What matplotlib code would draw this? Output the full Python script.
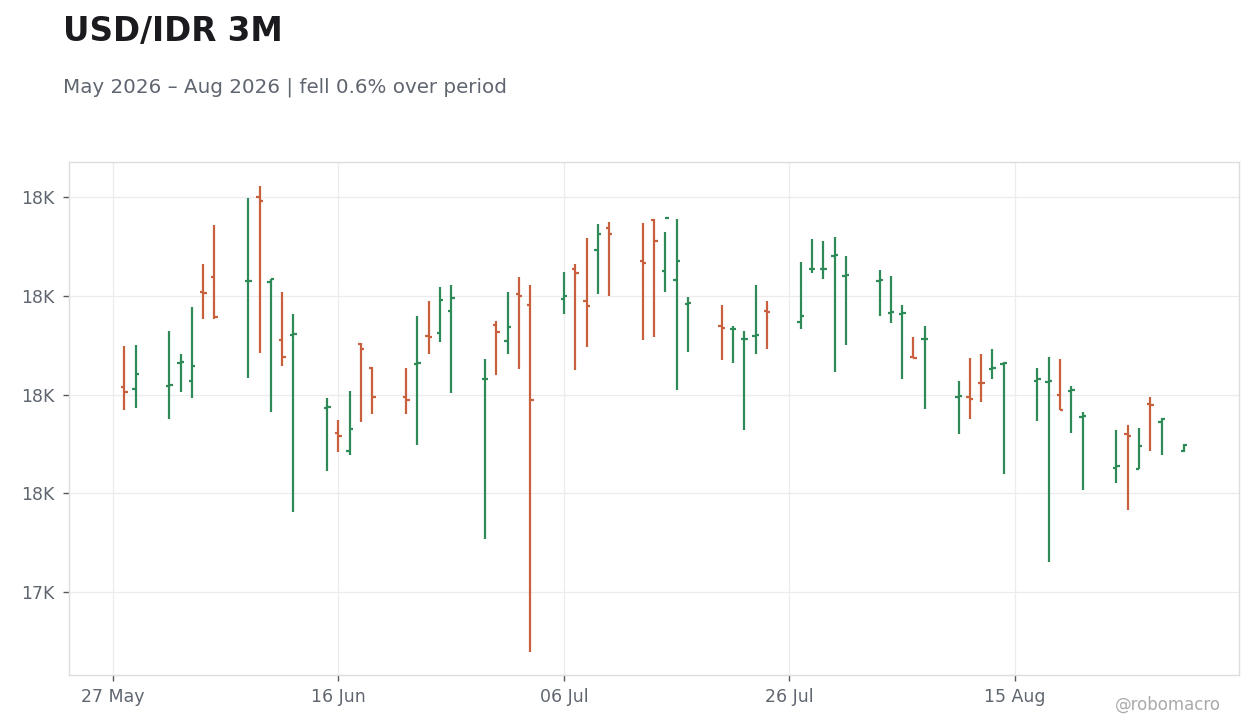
import pandas as pd
import matplotlib
matplotlib.use("Agg")
import matplotlib.pyplot as plt
import matplotlib.dates as mdates
from matplotlib.ticker import FuncFormatter, MultipleLocator

# daily OHLC, USD/IDR 3M
dates = [
    "2026-05-28", "2026-05-29",
    "2026-06-01", "2026-06-02", "2026-06-03", "2026-06-04", "2026-06-05",
    "2026-06-08", "2026-06-09", "2026-06-10", "2026-06-11", "2026-06-12",
    "2026-06-15", "2026-06-16", "2026-06-17", "2026-06-18", "2026-06-19",
    "2026-06-22", "2026-06-23", "2026-06-24", "2026-06-25", "2026-06-26",
    "2026-06-29", "2026-06-30", "2026-07-01", "2026-07-02", "2026-07-03",
    "2026-07-06", "2026-07-07", "2026-07-08", "2026-07-09", "2026-07-10",
    "2026-07-13", "2026-07-14", "2026-07-15", "2026-07-16", "2026-07-17",
    "2026-07-20", "2026-07-21", "2026-07-22", "2026-07-23", "2026-07-24",
    "2026-07-27", "2026-07-28", "2026-07-29", "2026-07-30", "2026-07-31",
    "2026-08-03", "2026-08-04", "2026-08-05", "2026-08-06", "2026-08-07",
    "2026-08-10", "2026-08-11", "2026-08-12", "2026-08-13", "2026-08-14",
    "2026-08-17", "2026-08-18", "2026-08-19", "2026-08-20", "2026-08-21",
    "2026-08-24", "2026-08-25", "2026-08-26", "2026-08-27", "2026-08-28",
    "2026-08-30",
]
opens = [17816, 17812,
         17818, 17865, 17828, 18009, 18039,
         18030, 18201, 18029, 17911, 17922,
         17774, 17723, 17686, 17903, 17855,
         17796, 17863, 17920, 17926, 17970,
         17832, 17942, 17909, 18005, 17982,
         17994, 18055, 17990, 18094, 18138,
         18072, 18155, 18051, 18033, 17984,
         17940, 17933, 17913, 17920, 17970,
         17948, 18055, 18055, 18082, 18041,
         18031, 17966, 17964, 17876, 17913,
         17796, 17796, 17824, 17853, 17863,
         17828, 17826, 17800, 17808, 17755,
         17652, 17721, 17650, 17782, 17745,
         17686]
highs = [17899, 17901,
         17929, 17883, 17978, 18065, 18144,
         18199, 18224, 18035, 18008, 17963,
         17793, 17749, 17807, 17905, 17856,
         17854, 17959, 17990, 18018, 18022,
         17872, 17949, 18008, 18038, 18022,
         18049, 18065, 18117, 18146, 18150,
         18148, 18156, 18130, 18156, 17998,
         17982, 17939, 17929, 18022, 17990,
         18069, 18115, 18111, 18120, 18081,
         18053, 18040, 17982, 17917, 17939,
         17828, 17874, 17882, 17892, 17866,
         17854, 17876, 17872, 17818, 17765,
         17728, 17738, 17732, 17795, 17753,
         17700]
lows = [17770, 17774,
        17750, 17806, 17794, 17954, 17954,
        17834, 17885, 17765, 17859, 17563,
        17646, 17684, 17678, 17745, 17761,
        17761, 17698, 17883, 17907, 17804,
        17507, 17840, 17883, 17853, 17279,
        17964, 17851, 17897, 18005, 18001,
        17911, 17917, 18009, 17810, 17887,
        17871, 17865, 17729, 17883, 17893,
        17934, 18047, 18035, 17846, 17901,
        17960, 17946, 17832, 17875, 17771,
        17720, 17751, 17786, 17832, 17639,
        17747, 17461, 17769, 17723, 17607,
        17622, 17567, 17649, 17686, 17678,
        17684]
closes = [17806, 17842,
          17819, 17866, 17859, 18006, 17958,
          18031, 18193, 18034, 17877, 17924,
          17775, 17717, 17731, 17893, 17795,
          17790, 17864, 17918, 17992, 17996,
          17833, 17928, 17938, 18001, 17790,
          18001, 18047, 17980, 18126, 18126,
          18067, 18112, 18159, 18072, 17986,
          17936, 17934, 17914, 17921, 17968,
          17960, 18056, 18056, 18083, 18042,
          18032, 17967, 17965, 17875, 17914,
          17797, 17792, 17823, 17855, 17865,
          17832, 17827, 17769, 17809, 17757,
          17656, 17717, 17696, 17780, 17751,
          17699]

df = pd.DataFrame({"date": pd.to_datetime(dates), "open": opens, "high": highs,
                   "low": lows, "close": closes})
df["x"] = mdates.date2num(df["date"])

UP = "#2e8b57"
DOWN = "#c8603d"
TXT = "#5f6670"

fig = plt.figure(figsize=(12.6, 7.28), dpi=100, facecolor="white")
ax = fig.add_axes([0.0548, 0.0728, 0.9285, 0.7047])
ax.set_facecolor("white")

colors = [UP if c >= o else DOWN for o, c in zip(df["open"], df["close"])]
tw = 0.3  # tick half width in days
ax.vlines(df["x"], df["low"], df["high"], colors=colors, linewidth=1.6, zorder=3)
ax.hlines(df["open"], df["x"] - tw, df["x"], colors=colors, linewidth=1.6, zorder=3)
ax.hlines(df["close"], df["x"], df["x"] + tw, colors=colors, linewidth=1.6, zorder=3)

x0 = mdates.date2num(pd.Timestamp("2026-05-27"))
ax.set_xlim(x0 - 3.9, x0 + 99.87)
ax.set_ylim(17232, 18272)

ax.xaxis.set_major_locator(MultipleLocator(20, offset=x0 % 20))
ax.xaxis.set_major_formatter(mdates.DateFormatter("%d %b"))
ax.yaxis.set_major_locator(MultipleLocator(200))
ax.yaxis.set_major_formatter(FuncFormatter(lambda v, p: f"{v/1000:.0f}K"))

ax.grid(True, color="#ececec", linewidth=0.9, zorder=0)
ax.set_axisbelow(True)
for s in ax.spines.values():
    s.set_color("#dddddd")
    s.set_linewidth(1)
ax.tick_params(axis="both", colors="#555a60", labelcolor=TXT, labelsize=12.5,
               length=4.5, width=1)
ax.tick_params(axis="x", pad=4.5)
ax.tick_params(axis="y", pad=6)

fig.text(0.05, 0.9437, "USD/IDR 3M", fontsize=23.5, fontweight="bold",
         color="#1a1a1f", va="baseline")
fig.text(0.05, 0.8736, "May 2026 \u2013 Aug 2026 | fell 0.6% over period",
         fontsize=14.3, color=TXT, va="baseline")
fig.text(0.969, 0.025, "@robomacro", fontsize=12, color="#aaaaaa",
         ha="right", va="baseline")

fig.savefig("out.png", dpi=100, facecolor=fig.get_facecolor())
